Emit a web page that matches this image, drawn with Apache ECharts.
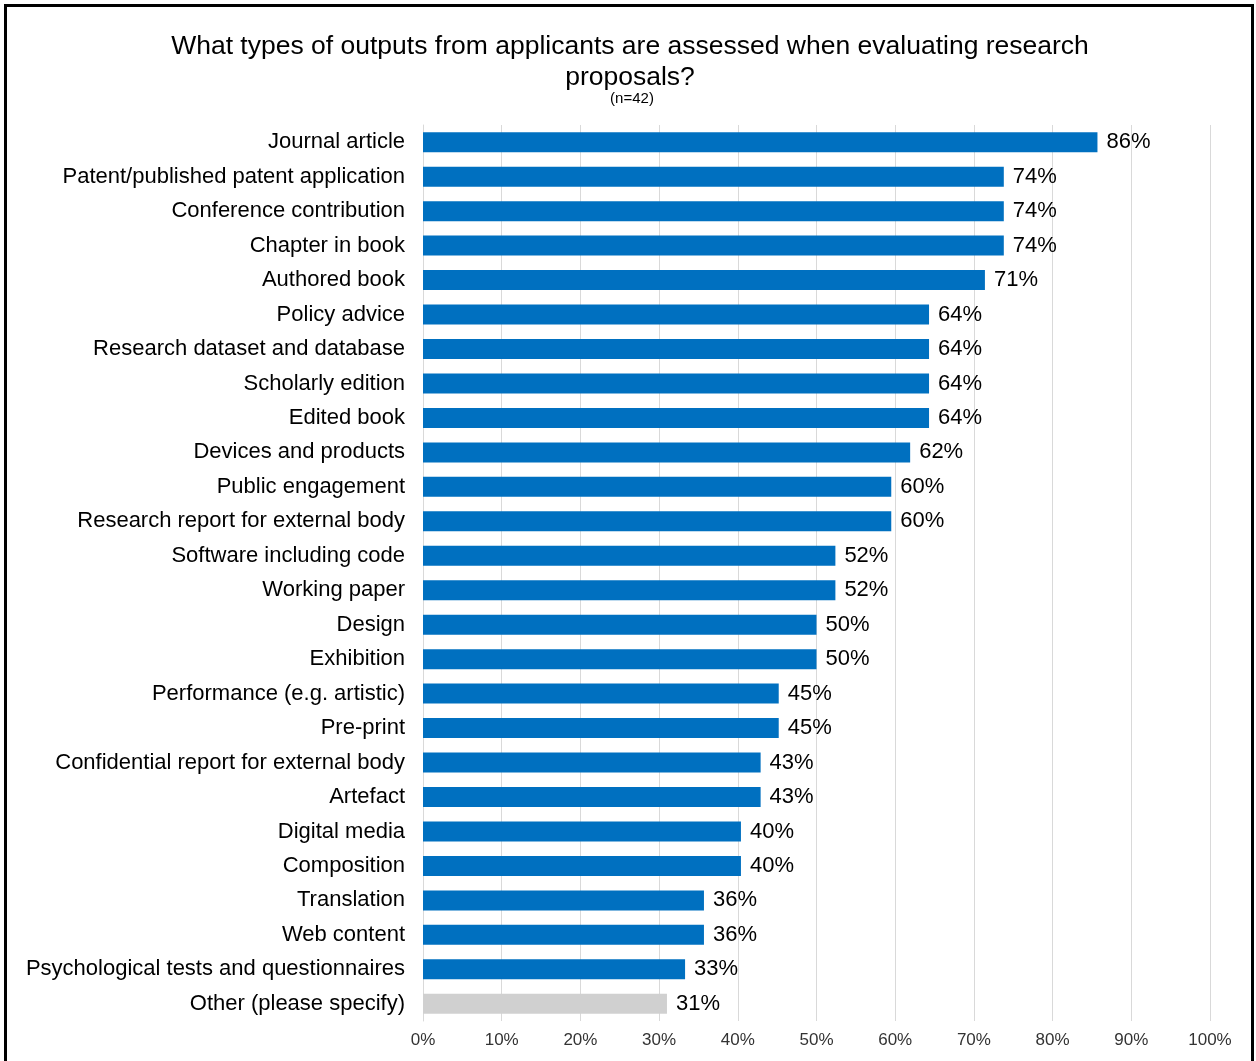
<!DOCTYPE html>
<html>
<head>
<meta charset="utf-8">
<script src="https://cdn.jsdelivr.net/npm/echarts@6/dist/echarts.min.js"></script>
<style>
html,body{margin:0;padding:0;background:#fff;}
#frame{position:absolute;left:4px;top:4px;width:1250px;height:1070px;border:3px solid #000;border-bottom:none;box-sizing:border-box;}
#chart{position:absolute;left:0;top:0;width:1256px;height:1061px;}
</style>
</head>
<body>
<div id="chart"></div>
<div id="frame"></div>
<script>
const categories = [
  "Journal article",
  "Patent/published patent application",
  "Conference contribution",
  "Chapter in book",
  "Authored book",
  "Policy advice",
  "Research dataset and database",
  "Scholarly edition",
  "Edited book",
  "Devices and products",
  "Public engagement",
  "Research report for external body",
  "Software including code",
  "Working paper",
  "Design",
  "Exhibition",
  "Performance (e.g. artistic)",
  "Pre-print",
  "Confidential report for external body",
  "Artefact",
  "Digital media",
  "Composition",
  "Translation",
  "Web content",
  "Psychological tests and questionnaires",
  "Other (please specify)"
];
const values = [85.7, 73.8, 73.8, 73.8, 71.4, 64.3, 64.3, 64.3, 64.3, 61.9, 59.5, 59.5, 52.4, 52.4, 50.0, 50.0, 45.2, 45.2, 42.9, 42.9, 40.4, 40.4, 35.7, 35.7, 33.3, 31.0];
const highlightColor = "#0070C0";
const otherColor = "#D0D0D0";
const xTicks = [0, 10, 20, 30, 40, 50, 60, 70, 80, 90, 100];

const chart = echarts.init(document.getElementById('chart'), null, {renderer: 'canvas'});
const font = 'Liberation Sans, Arial, Helvetica, sans-serif';
chart.setOption({
  animation: false,
  backgroundColor: '#fff',
  title: [
    {
      text: 'What types of outputs from applicants are assessed when evaluating research\nproposals?',
      left: 625, top: 26, textAlign: 'center',
      textStyle: {fontFamily: font, fontSize: 26.5, fontWeight: 'normal', color: '#000', lineHeight: 31}
    },
    {
      text: '(n=42)',
      left: 627, top: 86, textAlign: 'center',
      textStyle: {fontFamily: font, fontSize: 15, fontWeight: 'normal', color: '#000'}
    }
  ],
  grid: {left: 423, right: 46, top: 125, bottom: 40, containLabel: false},
  xAxis: {
    type: 'value', min: 0, max: 100, interval: 10,
    axisLine: {show: false},
    axisTick: {show: false},
    splitLine: {show: true, lineStyle: {color: '#D9D9D9', width: 1}},
    axisLabel: {
      fontFamily: font, fontSize: 17, color: '#333', margin: 11,
      formatter: v => xTicks.includes(v) ? v + '%' : ''
    }
  },
  yAxis: {
    type: 'category', data: categories, inverse: true,
    axisLine: {show: true, lineStyle: {color: '#D9D9D9'}},
    axisTick: {show: false},
    axisLabel: {fontFamily: font, fontSize: 22, color: '#000', margin: 18}
  },
  series: [{
    type: 'bar',
    data: values.map((v, i) => ({
      value: v,
      itemStyle: {color: i === values.length - 1 ? otherColor : highlightColor}
    })),
    barCategoryGap: '42%',
    label: {
      show: true, position: 'right', distance: 9,
      fontFamily: font, fontSize: 22, color: '#000',
      formatter: p => Math.round(p.value) + '%'
    }
  }]
});
</script>
</body>
</html>
